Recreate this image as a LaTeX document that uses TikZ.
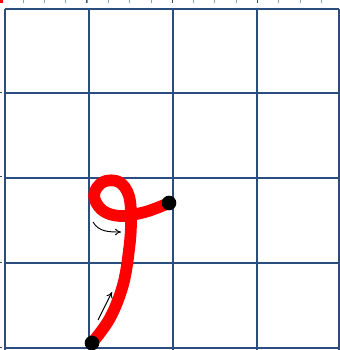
\documentclass[tikz,border=0pt]{standalone}
\usepackage{tikz}
\usetikzlibrary{arrows.meta, calc}
\definecolor{gridblue}{HTML}{2B4C7E}
\definecolor{ticklight}{HTML}{7FA7B8}
\definecolor{tickdark}{HTML}{2E5266}
\definecolor{inkred}{HTML}{FF0000}

\begin{document}
\begin{tikzpicture}[
    x=0.03cm, y=-0.03cm,
    gridline/.style={draw=gridblue, line width=1.4pt},
    minortick/.style={draw=ticklight, line width=0.5pt},
    majortick/.style={draw=tickdark, line width=0.7pt},
    stroke/.style={draw=inkred, line width=10pt, line cap=round, line join=round},
    enddot/.style={circle, fill=black, inner sep=0pt, minimum size=0.44cm},
    hint/.style={-{To[length=1.8mm, width=2mm]}, black, line width=0.8pt},
]
    \useasboundingbox (0,0) rectangle (340,350);
    % ruler marks
    \foreach \i in {1,...,15} {
        \draw[minortick] ({1.7+21.3*\i},0) -- ({1.7+21.3*\i},3);
    }
    \foreach \i in {1,2,3} {
        \draw[majortick] ({1.7+85.2*\i},0) -- ({1.7+85.2*\i},3);
    }
    \foreach \y in {92,176,262,347} {
        \draw[majortick] (0,\y) -- (2,\y);
    }
    \fill[inkred] (0,0) rectangle (3,3);
    % grid
    \foreach \x in {5,89,173,257,339} {
        \draw[gridline] (\x,9) -- (\x,350);
    }
    \foreach \y in {9,93,178,263,348} {
        \draw[gridline] (5,\y) -- (339,\y);
    }
    % letter stroke
    \coordinate (start) at (92,343);
    \coordinate (finish) at (169,203);
    \draw[stroke] plot[smooth, tension=0.6] coordinates {
        (start) (110,318) (123,285) (129,250) (131,222) (129,196) (119,182)
        (103,182) (94,195) (102,210) (120,216) (145,212) (finish)};
    \node[enddot] (dotA) at (start) {};
    \node[enddot] (dotB) at (finish) {};
    % direction hints
    \coordinate (upA) at (98,320);
    \coordinate (upB) at (112,292);
    \draw[hint] (upA) -- (upB);
    \coordinate (turnA) at (93,222);
    \coordinate (turnB) at (121,232);
    \draw[hint] (turnA) to[out=-60, in=180] (turnB);
\end{tikzpicture}
\end{document}
